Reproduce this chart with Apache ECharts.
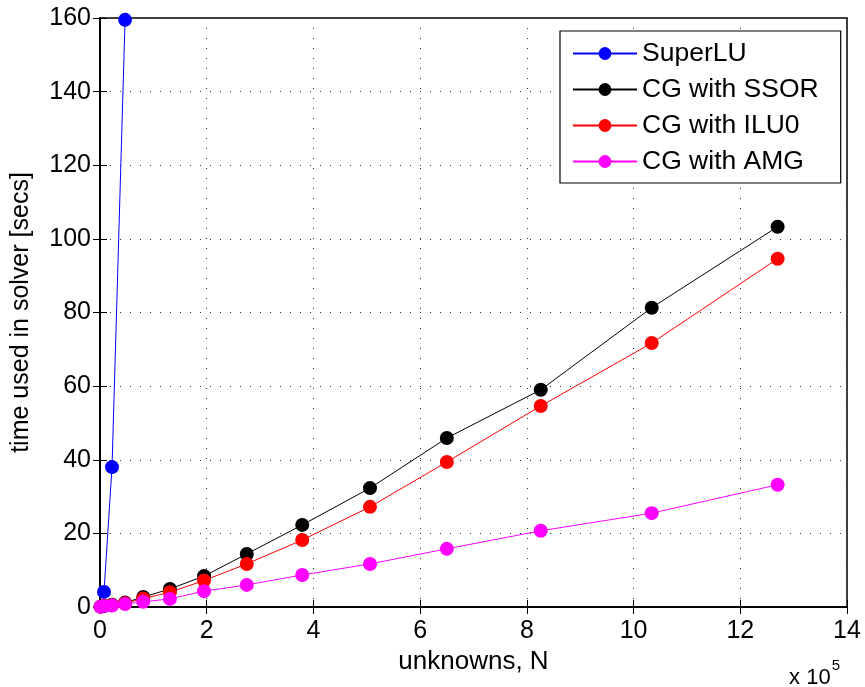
<!DOCTYPE html>
<html>
<head>
<meta charset="utf-8">
<script src="https://cdn.jsdelivr.net/npm/echarts@6/dist/echarts.min.js"></script>
<style>
  html, body { margin: 0; padding: 0; background: #fff; }
  #main { width: 865px; height: 687px; }
</style>
</head>
<body>
<div id="main"></div>
<script>
// unknowns N, in units of 10^5
var nSuperLU = [0.075, 0.225, 0.47];
var tSuperLU = [4.1, 38, 159.5];

var nCG = [0.01, 0.075, 0.225, 0.47, 0.81, 1.31, 1.95, 2.75, 3.79, 5.06, 6.5, 8.26, 10.34, 12.7];
var tSSOR = [0.1, 0.3, 0.6, 1.2, 2.7, 4.9, 8.4, 14.4, 22.3, 32.3, 45.9, 59, 81.3, 103.3];
var tILU0 = [0.1, 0.3, 0.5, 1.0, 2.3, 4.0, 7.2, 11.7, 18.2, 27.2, 39.4, 54.6, 71.7, 94.6];
var tAMG = [0.1, 0.2, 0.4, 0.8, 1.4, 2.2, 4.3, 6.0, 8.7, 11.7, 15.8, 20.7, 25.5, 33.2];

var xTicks = [0, 2, 4, 6, 8, 10, 12, 14];
var yTicks = [0, 20, 40, 60, 80, 100, 120, 140, 160];

var FONT = '"Liberation Sans", Arial, Helvetica, sans-serif';

// 把两个数组合成 [x, y] 点
function pairs(xs, ys) {
  var out = [];
  for (var i = 0; i < ys.length; i++) {
    out.push([xs[i], ys[i]]);
  }
  return out;
}

function lineSeries(name, color, xs, ys) {
  return {
    name: name,
    type: 'line',
    data: pairs(xs, ys),
    symbol: 'circle',
    symbolSize: 14,
    showSymbol: true,
    lineStyle: { color: color, width: 1 },
    itemStyle: { color: color },
    z: 3
  };
}

var gridLine = { show: true, lineStyle: { color: '#333', type: [1, 9], width: 1 } };

var myChart = echarts.init(document.getElementById('main'));
var option = {
  animation: false,
  textStyle: { fontFamily: FONT },
  grid: {
    left: 100, right: 18, top: 18, bottom: 80,
    show: true, borderColor: '#000', borderWidth: 1.5, backgroundColor: '#fff'
  },
  legend: {
    left: 560, top: 31,
    orient: 'vertical',
    itemWidth: 64, itemHeight: 16, itemGap: 9,
    padding: [9, 22, 8, 12],
    borderColor: '#000', borderWidth: 1.2,
    backgroundColor: '#fff',
    textStyle: { fontSize: 26.5, color: '#000', fontFamily: FONT },
    data: ['SuperLU', 'CG with SSOR', 'CG with ILU0', 'CG with AMG']
  },
  xAxis: [{
    type: 'value', min: 0, max: 14, interval: 2,
    name: 'unknowns, N', nameLocation: 'middle', nameGap: 42,
    nameTextStyle: { fontSize: 26, color: '#000' },
    axisLine: { show: true, lineStyle: { color: '#000', width: 1.5 } },
    axisTick: { show: true, inside: true, length: 7, lineStyle: { color: '#000' } },
    axisLabel: { fontSize: 25, color: '#000', margin: 12 },
    splitLine: gridLine
  }, {
    type: 'value', min: 0, max: 14, interval: 2, position: 'top',
    axisLine: { show: true, lineStyle: { color: '#000', width: 1.5 } },
    axisTick: { show: true, inside: true, length: 7, lineStyle: { color: '#000' } },
    axisLabel: { show: false }, splitLine: { show: false }
  }],
  yAxis: [{
    type: 'value', min: 0, max: 160, interval: 20,
    name: 'time used in solver [secs]', nameLocation: 'middle', nameGap: 66,
    nameTextStyle: { fontSize: 25, color: '#000' },
    axisLine: { show: true, lineStyle: { color: '#000', width: 1.5 } },
    axisTick: { show: true, inside: true, length: 7, lineStyle: { color: '#000' } },
    axisLabel: { fontSize: 25, color: '#000', margin: 9 },
    splitLine: gridLine
  }, {
    type: 'value', min: 0, max: 160, interval: 20, position: 'right',
    axisLine: { show: true, lineStyle: { color: '#000', width: 1.5 } },
    axisTick: { show: true, inside: true, length: 7, lineStyle: { color: '#000' } },
    axisLabel: { show: false }, splitLine: { show: false }
  }],
  graphic: [{
    type: 'text', right: 25, top: 658,
    style: {
      text: '{b|x 10}{s|5}',
      rich: {
        b: { fontSize: 22, fontFamily: FONT, fill: '#000', padding: [8, 0, 0, 0] },
        s: { fontSize: 15, fontFamily: FONT, fill: '#000', verticalAlign: 'top', padding: [0, 0, 16, 1] }
      }
    }
  }],
  series: [
    lineSeries('SuperLU', '#0000ff', nSuperLU, tSuperLU),
    lineSeries('CG with SSOR', '#000000', nCG, tSSOR),
    lineSeries('CG with ILU0', '#ff0000', nCG, tILU0),
    lineSeries('CG with AMG', '#ff00ff', nCG, tAMG)
  ]
};
myChart.setOption(option);
</script>
</body>
</html>
